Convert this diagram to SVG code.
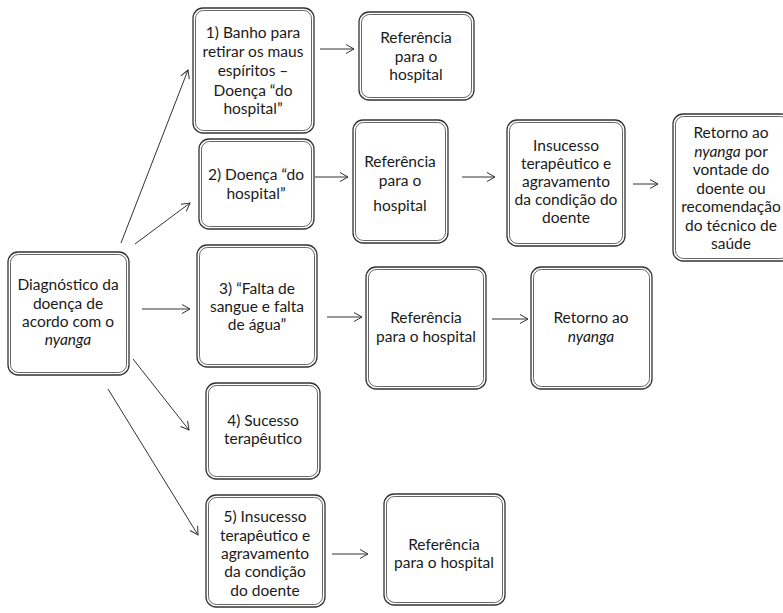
<svg xmlns="http://www.w3.org/2000/svg" width="783" height="613" viewBox="0 0 783 613">
<style>
.o{fill:#fff;stroke:#333;stroke-width:1.3}
.i{fill:none;stroke:#555;stroke-width:0.9}
text{font-family:Lato,"Liberation Sans",sans-serif;font-size:15.5px;fill:#1a1a1a;text-anchor:middle}
.it{font-style:italic}
.c{stroke:#333;stroke-width:1;fill:none;marker-end:url(#ah)}
</style>
<defs>
<marker id="ah" markerUnits="userSpaceOnUse" markerWidth="12" markerHeight="12" refX="9" refY="5" orient="auto">
<path d="M1,0.5 L9,5 L1,9.5" fill="none" stroke="#333" stroke-width="1"/>
</marker>
</defs>
<rect width="783" height="613" fill="#fff"/>
<g id="connectors">
<line class="c" x1="121" y1="243" x2="188" y2="70"/>
<line class="c" x1="135" y1="244" x2="190" y2="203"/>
<line class="c" x1="142" y1="309" x2="190" y2="309"/>
<line class="c" x1="133" y1="359" x2="189" y2="430"/>
<line class="c" x1="108" y1="389" x2="198" y2="535"/>
<line class="c" x1="320" y1="49" x2="354" y2="49"/>
<line class="c" x1="315" y1="177" x2="348" y2="177"/>
<line class="c" x1="462" y1="177" x2="495" y2="177"/>
<line class="c" x1="633" y1="184" x2="658" y2="184"/>
<line class="c" x1="327" y1="317" x2="362" y2="317"/>
<line class="c" x1="492" y1="319" x2="528" y2="319"/>
<line class="c" x1="332" y1="554" x2="368" y2="554"/>
</g>
<g id="diag">
<rect class="o" x="8" y="252" width="121" height="123" rx="10"/>
<rect class="i" x="10.5" y="254.5" width="116" height="118" rx="8"/>
<text x="68" y="290">Diagnóstico da</text>
<text x="68" y="309">doença de</text>
<text x="68" y="327">acordo com o</text>
<text x="68" y="345" class="it">nyanga</text>
</g>
<g id="n1">
<rect class="o" x="193" y="8" width="121" height="125" rx="10"/>
<rect class="i" x="195.5" y="10.5" width="116" height="120" rx="8"/>
<text x="253" y="38">1) Banho para</text>
<text x="253" y="57">retirar os maus</text>
<text x="253" y="76">espíritos  –</text>
<text x="253" y="96">Doença “do</text>
<text x="253" y="114">hospital”</text>
</g>
<g id="r1">
<rect class="o" x="359" y="12" width="115" height="88" rx="10"/>
<rect class="i" x="361.5" y="14.5" width="110" height="83" rx="8"/>
<text x="416" y="43">Referência</text>
<text x="416" y="62">para o</text>
<text x="416" y="80">hospital</text>
</g>
<g id="n2">
<rect class="o" x="199" y="139" width="115" height="90" rx="10"/>
<rect class="i" x="201.5" y="141.5" width="110" height="85" rx="8"/>
<text x="256" y="180">2) Doença “do</text>
<text x="256" y="199">hospital”</text>
</g>
<g id="r2">
<rect class="o" x="353" y="120" width="95" height="123" rx="10"/>
<rect class="i" x="355.5" y="122.5" width="90" height="118" rx="8"/>
<text x="400" y="167">Referência</text>
<text x="400" y="186">para o</text>
<text x="400" y="211">hospital</text>
</g>
<g id="i2">
<rect class="o" x="507" y="120" width="118" height="126" rx="10"/>
<rect class="i" x="509.5" y="122.5" width="113" height="121" rx="8"/>
<text x="566" y="151">Insucesso</text>
<text x="566" y="169">terapêutico e</text>
<text x="566" y="187">agravamento</text>
<text x="566" y="205">da condição do</text>
<text x="566" y="223">doente</text>
</g>
<g id="ret2">
<rect class="o" x="673" y="114" width="118" height="147" rx="10"/>
<rect class="i" x="675.5" y="116.5" width="113" height="142" rx="8"/>
<text x="731" y="138">Retorno ao</text>
<text x="731" y="157"><tspan class="it">nyanga</tspan> por</text>
<text x="731" y="175">vontade do</text>
<text x="731" y="194">doente ou</text>
<text x="731" y="212">recomendação</text>
<text x="731" y="231">do técnico de</text>
<text x="731" y="249">saúde</text>
</g>
<g id="n3">
<rect class="o" x="197" y="245" width="120" height="122" rx="10"/>
<rect class="i" x="199.5" y="247.5" width="115" height="117" rx="8"/>
<text x="257" y="294">3) “Falta de</text>
<text x="257" y="312">sangue e falta</text>
<text x="257" y="330">de água”</text>
</g>
<g id="r3">
<rect class="o" x="366" y="267" width="120" height="122" rx="10"/>
<rect class="i" x="368.5" y="269.5" width="115" height="117" rx="8"/>
<text x="426" y="323">Referência</text>
<text x="426" y="342">para o hospital</text>
</g>
<g id="ret3">
<rect class="o" x="531" y="267" width="121" height="122" rx="10"/>
<rect class="i" x="533.5" y="269.5" width="116" height="117" rx="8"/>
<text x="591" y="323">Retorno ao</text>
<text x="591" y="342" class="it">nyanga</text>
</g>
<g id="n4">
<rect class="o" x="206" y="383" width="114" height="96" rx="10"/>
<rect class="i" x="208.5" y="385.5" width="109" height="91" rx="8"/>
<text x="263" y="426">4) Sucesso</text>
<text x="263" y="444">terapêutico</text>
</g>
<g id="n5">
<rect class="o" x="206" y="495" width="119" height="112" rx="10"/>
<rect class="i" x="208.5" y="497.5" width="114" height="107" rx="8"/>
<text x="265" y="522">5) Insucesso</text>
<text x="265" y="541">terapêutico e</text>
<text x="265" y="559">agravamento</text>
<text x="265" y="577">da condição</text>
<text x="265" y="596">do doente</text>
</g>
<g id="r5">
<rect class="o" x="384" y="494" width="121" height="111" rx="10"/>
<rect class="i" x="386.5" y="496.5" width="116" height="106" rx="8"/>
<text x="444" y="550">Referência</text>
<text x="444" y="568">para o hospital</text>
</g>
</svg>
